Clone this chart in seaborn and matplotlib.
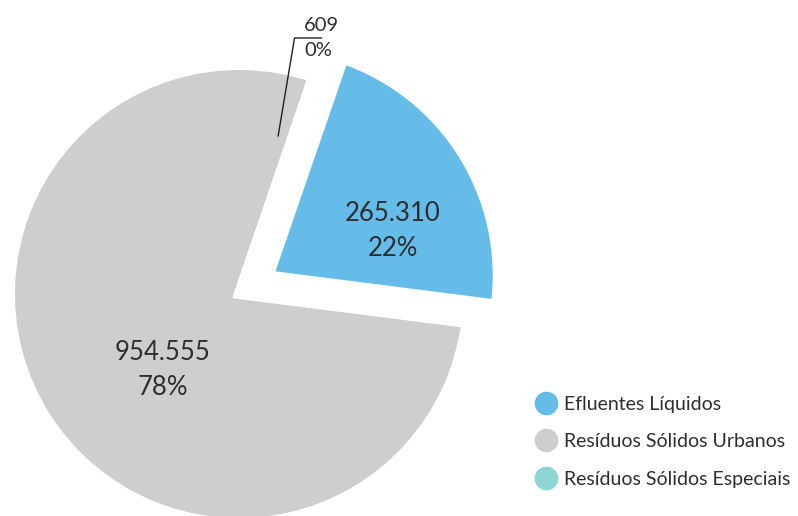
import numpy as np
import matplotlib
matplotlib.use("Agg")
import matplotlib.pyplot as plt
import seaborn as sns
from matplotlib.lines import Line2D

# ---- data ----
categories = ["Efluentes Líquidos", "Resíduos Sólidos Urbanos", "Resíduos Sólidos Especiais"]
values = [265310, 954555, 609]
colors = ["#65BCE9", "#CECECE", "#8DD4D4"]

sns.set_theme(style="white")
plt.rcParams["font.family"] = ["Lato", "DejaVu Sans"]

W, H, DPI = 798, 516, 100
fig = plt.figure(figsize=(W / DPI, H / DPI), dpi=DPI)
ax = fig.add_axes([0, 0, 1, 1])

R_PX = 229.0          # pie radius in pixels
CX, CY = 239.0, 294.0  # pie centre in pixels (from top-left)

explode = [35 / R_PX, 0, 0]
wedges, _ = ax.pie(
    values,
    colors=colors,
    startangle=71,
    counterclock=False,
    explode=explode,
    radius=1.0,
    wedgeprops=dict(edgecolor="white", linewidth=7.2),
)
ax.set_xlim(-CX / R_PX, (W - CX) / R_PX)
ax.set_ylim(-(H - CY) / R_PX, CY / R_PX)
ax.set_aspect("equal")
ax.axis("off")

total = sum(values)

def fmt(v):
    return f"{v:,}".replace(",", ".")

txt_color = "#2e2e2e"
# label placement: (radial fraction, angle offset from wedge mid-angle)
label_place = {0: (0.575, -12.0), 1: (0.47, 13.0)}
for i, (r, dth) in label_place.items():
    w = wedges[i]
    mid = np.deg2rad((w.theta1 + w.theta2) / 2 + dth)
    cx, cy = w.center
    ax.text(cx + r * np.cos(mid), cy + r * np.sin(mid),
            f"{fmt(values[i])}\n{round(values[i] / total * 100)}%",
            ha="center", va="center", fontsize=18.5, color=txt_color,
            linespacing=1.5)

# tiny slice callout
w = wedges[2]
mid = np.deg2rad((w.theta1 + w.theta2) / 2 + 5)
cx, cy = w.center
p0 = (cx + 0.71 * np.cos(mid), cy + 0.71 * np.sin(mid))
ax.annotate(f"{fmt(values[2])}\n{round(values[2] / total * 100)}%",
            xy=p0, xytext=(304 / R_PX - CX / R_PX, CY / R_PX - 38 / R_PX),
            ha="left", va="center", fontsize=14.5, color=txt_color,
            linespacing=1.55,
            arrowprops=dict(arrowstyle="-", color="#222222", lw=1.0,
                            connectionstyle="angle,angleA=0,angleB=80.5",
                            shrinkA=0, shrinkB=0, patchA=None))

handles = [Line2D([0], [0], marker="o", linestyle="", markersize=16,
                  markerfacecolor=c, markeredgecolor=c) for c in colors]
leg = fig.legend(handles, categories, loc="upper left",
                 bbox_to_anchor=(522 / W, 1 - 386 / H),
                 frameon=False, fontsize=14, labelspacing=1.05,
                 handletextpad=0.15, handlelength=1.5, borderpad=0)
for t in leg.get_texts():
    t.set_color(txt_color)

fig.savefig("out.png", dpi=DPI)
